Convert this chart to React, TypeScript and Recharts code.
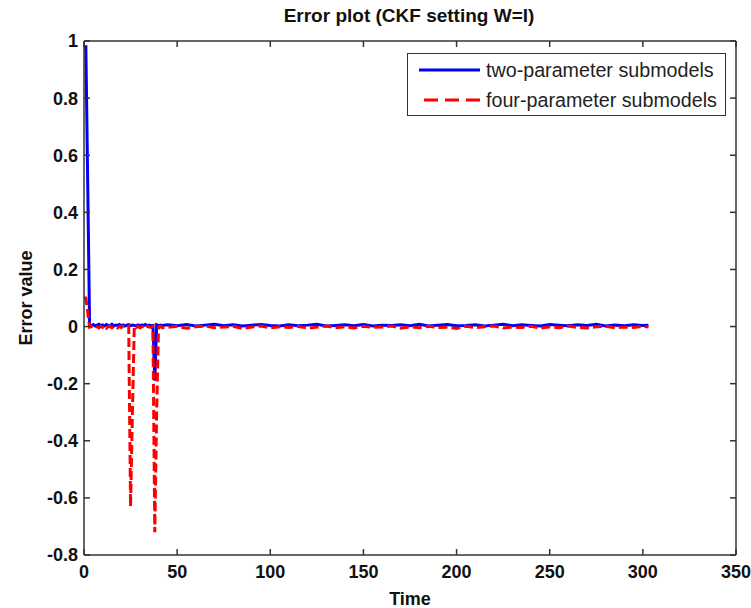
import { ComposedChart, Line, XAxis, YAxis, Label } from 'recharts'

const time = [
  0, 1, 2, 3, 4, 5, 6, 7, 8, 9, 10, 11, 12, 13, 14, 15, 16, 17, 18, 19, 20, 21, 22, 23, 24, 25, 26, 27, 28, 29,
  30, 31, 32, 33, 34, 35, 36, 37, 38, 39, 40, 41, 42,
  45, 50, 55, 60, 65, 70, 75, 80, 85, 90, 95, 100, 105, 110, 115, 120, 125, 130, 135, 140, 145, 150,
  155, 160, 165, 170, 175, 180, 185, 190, 195, 200, 205, 210, 215, 220, 225, 230, 235, 240, 245, 250,
  255, 260, 265, 270, 275, 280, 285, 290, 295, 300, 303,
]

// two-parameter submodels
const twoParam = [
  0.98, 0.98, 0.5, 0.006, 0.003, 0.007, 0.002, 0.005, 0.008, 0.003, 0.006, 0.002, 0.007, 0.004, 0.003,
  0.008, 0.002, 0.005, 0.004, 0.007, 0.003, 0.006, 0.002, 0.005, 0.007, 0.003, 0.005, 0.004, 0.002, 0.006,
  0.003, 0.005, 0.004, 0.007, 0.002, 0.005, 0.003, 0.004, -0.19, 0.006, 0.003, 0.005, 0.004,
  0.006, 0.003, 0.007, 0.002, 0.005, 0.008, 0.003, 0.006, 0.002, 0.005,
  0.007, 0.004, 0.002, 0.006, 0.003, 0.005, 0.008, 0.002, 0.004, 0.006,
  0.003, 0.007, 0.002, 0.005, 0.004, 0.006, 0.003, 0.008, 0.002, 0.005,
  0.007, 0.003, 0.004, 0.006, 0.002, 0.005, 0.008, 0.003, 0.006, 0.004,
  0.002, 0.007, 0.005, 0.003, 0.006, 0.004, 0.008, 0.002, 0.005, 0.003,
  0.006, 0.004, 0.005,
]

// four-parameter submodels
const fourParam = [
  0.1, 0.1, 0.05, -0.002, 0.001, -0.004, 0.002, -0.001, -0.005, 0.001, -0.003, 0.002, -0.006, -0.001, 0.001,
  -0.004, 0.002, -0.002, -0.005, 0.001, -0.003, 0.002, -0.001, -0.004, 0.001, -0.63, -0.3, 0.002, -0.003, 0.001,
  -0.004, -0.001, 0.002, -0.005, 0.001, -0.002, -0.003, 0.001, -0.72, -0.3, -0.002, 0.001, -0.004,
  -0.003, 0.001, -0.006, -0.001, 0.002, -0.004, -0.002, 0.001, -0.007, -0.002,
  0.002, -0.005, -0.001, -0.003, 0.001, -0.006, -0.002, 0.002, -0.004, -0.001,
  -0.005, 0.001, -0.003, -0.002, 0.002, -0.006, -0.001, -0.004, 0.001, -0.003,
  -0.002, -0.007, 0.001, -0.004, -0.001, 0.002, -0.005, -0.002, -0.003, 0.001,
  -0.006, -0.001, -0.004, 0.002, -0.003, -0.005, -0.001, 0.001, -0.004, -0.002,
  -0.003, 0.001, -0.002,
]

const xTicks = [0, 50, 100, 150, 200, 250, 300, 350]
const yTicks = [-0.8, -0.6, -0.4, -0.2, 0, 0.2, 0.4, 0.6, 0.8, 1]

const data = time.map((t, i) => ({ t, two: twoParam[i], four: fourParam[i] }))

const sans = "'Liberation Sans', Arial, sans-serif"
const axisCol = '#333'
const tickFont = { fontSize: 18, fontWeight: 700, fill: '#111', fontFamily: sans }
const blank = () => ''

export default function App() {
  return (
    <div style={{ position: 'absolute', left: 0, top: 0, width: 751, height: 608, background: '#fff' }}>
      <div
        style={{
          position: 'absolute', left: 0, width: 818, top: 5, textAlign: 'center',
          fontFamily: sans, fontWeight: 700, fontSize: 19, color: '#111',
        }}
      >
        Error plot (CKF setting W=I)
      </div>
      <ComposedChart width={751} height={608} data={data} margin={{ top: 41, right: 15, bottom: 0, left: 0 }}>
        <XAxis
          xAxisId="b" dataKey="t" type="number" domain={[0, 350]} ticks={xTicks} interval={0}
          height={53} tickSize={-6} tickMargin={16} tick={tickFont}
          stroke={axisCol} strokeWidth={1.5} allowDataOverflow
        >
          <Label value="Time" position="insideBottom" offset={3}
            style={{ fontSize: 18, fontWeight: 700, fill: '#111', fontFamily: sans }} />
        </XAxis>
        <XAxis
          xAxisId="t" dataKey="t" type="number" domain={[0, 350]} ticks={xTicks} interval={0}
          orientation="top" height={1} mirror tickSize={6} tickFormatter={blank}
          stroke={axisCol} strokeWidth={1.5} allowDataOverflow
        />
        <YAxis
          yAxisId="l" type="number" domain={[-0.8, 1]} ticks={yTicks} interval={0}
          width={84} tickSize={-6} tickMargin={12} tick={tickFont}
          tickFormatter={(v: number) => String(Math.round(v * 10) / 10)}
          stroke={axisCol} strokeWidth={1.5} allowDataOverflow
        >
          <Label value="Error value" angle={-90} position="insideLeft" offset={26}
            style={{ fontSize: 18, fontWeight: 700, fill: '#111', fontFamily: sans, textAnchor: 'middle' }} />
        </YAxis>
        <YAxis
          yAxisId="r" type="number" domain={[-0.8, 1]} ticks={yTicks} interval={0}
          orientation="right" width={1} mirror tickSize={6} tickFormatter={blank}
          stroke={axisCol} strokeWidth={1.5} allowDataOverflow
        />
        <Line xAxisId="b" yAxisId="l" type="linear" dataKey="two" stroke="#0000ff" strokeWidth={3}
          dot={false} isAnimationActive={false} />
        <Line xAxisId="b" yAxisId="l" type="linear" dataKey="four" stroke="#ff0000" strokeWidth={3}
          strokeDasharray="9 4" dot={false} isAnimationActive={false} />
      </ComposedChart>
      <div
        style={{
          position: 'absolute', left: 407, top: 53, width: 319, height: 63, boxSizing: 'border-box',
          border: '1.5px solid #333', background: '#fff',
          fontFamily: sans, fontSize: 19.7, color: '#222', lineHeight: '22px',
        }}
      >
        <svg width={70} height={60} style={{ position: 'absolute', left: 8, top: 0 }}>
          <line x1={3} x2={64} y1={16} y2={16} stroke="#0000ff" strokeWidth={3} />
          <line x1={8} x2={64} y1={46} y2={46} stroke="#ff0000" strokeWidth={3} strokeDasharray="14 7" />
        </svg>
        <div style={{ position: 'absolute', left: 78, top: 5, whiteSpace: 'nowrap' }}>two-parameter submodels</div>
        <div style={{ position: 'absolute', left: 78, top: 35, whiteSpace: 'nowrap' }}>four-parameter submodels</div>
      </div>
    </div>
  )
}
